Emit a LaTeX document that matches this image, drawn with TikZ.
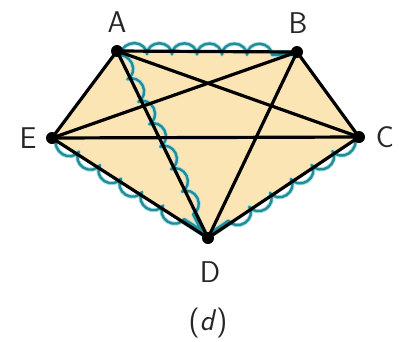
\documentclass[tikz,border=0pt]{standalone}
\usepackage{fontspec}
\usetikzlibrary{decorations.pathmorphing}
\definecolor{fillc}{RGB}{252,229,180}
\definecolor{wavec}{RGB}{35,140,148}
\definecolor{haloc}{RGB}{165,225,235}
\tikzset{
  edge/.style={line width=3.2pt, line cap=round},
  vtx/.style={circle, fill=black, inner sep=0pt, minimum size=12pt},
  lbl/.style={font=\sffamily\fontsize{30}{30}\selectfont, text=black!85},
  bumpdeco/.style={decorate,
    decoration={bumps, segment length=50pt, amplitude=11pt, raise=-3pt, pre length=5pt, post length=5pt}},
  bumpdecom/.style={decorate,
    decoration={bumps, mirror, segment length=50pt, amplitude=11pt, raise=-3pt, pre length=5pt, post length=5pt}},
  halo/.style={draw=haloc, line width=4.2pt, line join=round, line cap=round},
  wavel/.style={draw=wavec, line width=2.4pt, line join=round, line cap=round},
}
\begin{document}
\begin{tikzpicture}[x=1pt,y=-1pt]
\useasboundingbox (0,0) rectangle (399,341);
\coordinate (a) at (117,51);
\coordinate (b) at (297,52);
\coordinate (c) at (359,137);
\coordinate (d) at (208,238);
\coordinate (e) at (52,138);
\fill[fillc] (a) -- (b) -- (c) -- (d) -- (e) -- cycle;
% wavy paths (halo then line)
\draw[halo, bumpdeco] (a) -- (b);
\draw[halo, bumpdeco] (a) -- (d);
\draw[halo, bumpdecom] (e) -- (d);
\draw[halo, bumpdeco] (c) -- (d);
\draw[wavel, bumpdeco] (a) -- (b);
\draw[wavel, bumpdeco] (a) -- (d);
\draw[wavel, bumpdecom] (e) -- (d);
\draw[wavel, bumpdeco] (c) -- (d);
% edges
\draw[edge] (a) -- (b) -- (c) -- (d) -- (e) -- (a);
\draw[edge] (a) -- (c);
\draw[edge] (a) -- (d);
\draw[edge] (b) -- (e);
\draw[edge] (b) -- (d);
\draw[edge] (e) -- (c);
\node[vtx] (na) at (a) {};
\node[vtx] (nb) at (b) {};
\node[vtx] (nc) at (c) {};
\node[vtx] (nd) at (d) {};
\node[vtx] (ne) at (e) {};
\node[lbl] (la) at (117,22) {A};
\node[lbl] (lb) at (298,23) {B};
\node[lbl] (lc) at (385,137) {C};
\node[lbl] (ld) at (210,272) {D};
\node[lbl] (le) at (28,138) {E};
\node[lbl] (ltitle) at (208,323) {(\textit{d})};
\end{tikzpicture}
\end{document}
